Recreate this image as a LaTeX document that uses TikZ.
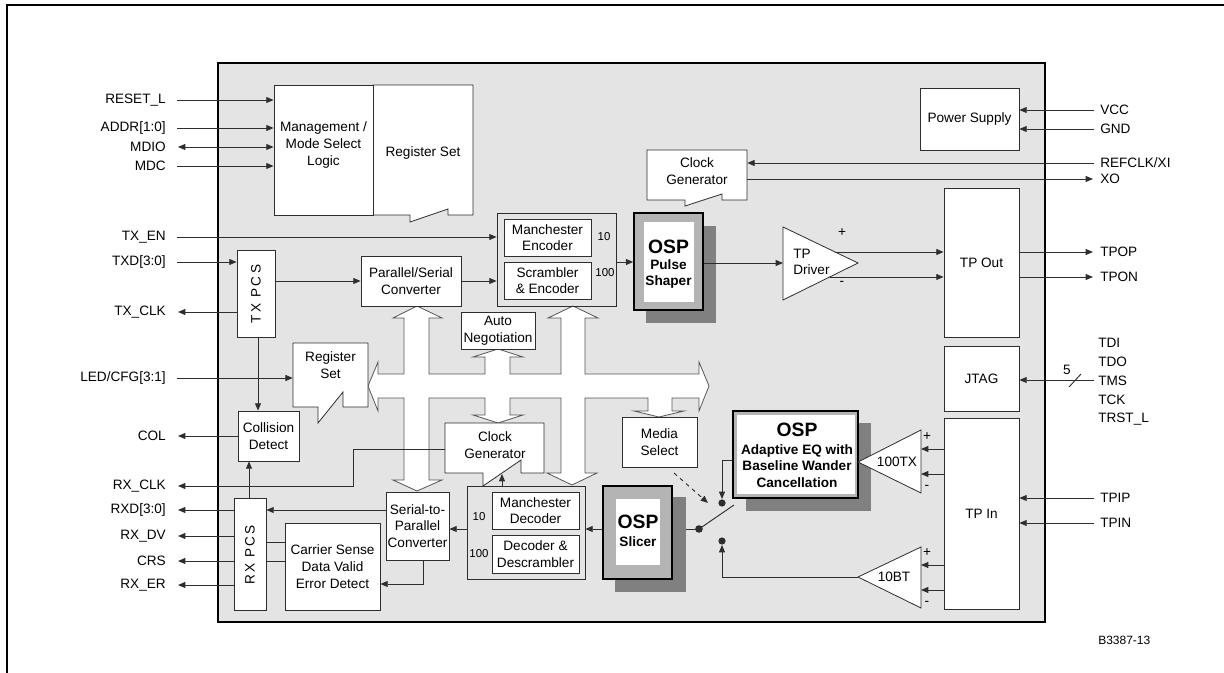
\documentclass[tikz,border=0pt]{standalone}
\usepackage{fontspec}
\setmainfont{Liberation Sans}
\usetikzlibrary{arrows.meta,fit}
\definecolor{bg}{HTML}{E4E4E4}
\definecolor{ln}{HTML}{2E2E2E}
\definecolor{shadowgray}{HTML}{808080}
\definecolor{band}{HTML}{B4B4B4}
\definecolor{busln}{HTML}{555555}
\newcommand\bxt[4]{\node[box, fit={#2 #3}] (#1) {};\node[area] (#1T) at (#1) {#4};}
\begin{document}
\begin{tikzpicture}[x=0.75pt,y=-0.75pt,
  font=\fontsize{10.2}{12.5}\selectfont,
  box/.style={draw=ln, fill=white, line width=0.6pt, inner sep=0pt},
  grp/.style={draw=ln, line width=0.6pt, inner sep=0pt},
  area/.style={inner sep=0pt, align=center},
  wire/.style={draw=ln, line width=0.7pt},
  arr/.style={wire, -{Triangle[length=5.5pt,width=4.5pt]}},
  darr/.style={wire, {Triangle[length=5.5pt,width=4.5pt]}-{Triangle[length=5.5pt,width=4.5pt]}},
  lbl/.style={inner sep=0pt, anchor=east},
  rlbl/.style={inner sep=0pt, anchor=west},
  ospbig/.style={inner sep=0pt, font=\fontsize{14.5}{16}\selectfont\bfseries},
  bld/.style={inner sep=0pt, align=center, font=\fontsize{10.2}{12.2}\selectfont\bfseries},
  small/.style={inner sep=0pt, font=\fontsize{8.6}{10}\selectfont},
  callout/.style={draw=ln, fill=white, line width=0.6pt},
  bandbox/.style={fill=band, draw=black, line width=1.1pt},
  bus/.style={fill=white, draw=busln, line width=0.6pt}
]
\useasboundingbox (0,0) rectangle (1224,673);
% outer frame
\draw[line width=1.5pt] (7,673) -- (7,5) -- (1240,5);
% chip area
\node[draw=black, fill=bg, line width=2pt, inner sep=0pt, fit={(218,63)(1045,622)}] (chip) {};

% ===== internal bus =====
\draw[bus] (368,386) -- (378,362) -- (378,374) -- (404,374) -- (404,318) -- (393,318) -- (417,306)
  -- (442,318) -- (429,318) -- (429,374) -- (485,374) -- (485,357) -- (473,357) -- (498,349)
  -- (523,357) -- (510,357) -- (510,374) -- (561,374) -- (561,318) -- (548,318) -- (573,306)
  -- (598,318) -- (585,318) -- (585,374) -- (699,374) -- (699,362) -- (709,386) -- (699,411)
  -- (699,398) -- (672,398) -- (672,411) -- (684,411) -- (659,417) -- (634,411) -- (648,411)
  -- (648,398) -- (585,398) -- (585,473) -- (597,473) -- (572,485) -- (547,473) -- (561,473)
  -- (561,398) -- (510,398) -- (510,415) -- (523,415) -- (498,423) -- (473,415) -- (485,415)
  -- (485,398) -- (429,398) -- (429,480) -- (442,480) -- (417,491) -- (393,480) -- (404,480)
  -- (404,398) -- (378,398) -- (378,411) -- cycle;

% ===== management / register set =====
\draw[callout] (373,85) -- (473,85) -- (473,215) -- (448,215) -- (448,209) -- (410,222) -- (410,215) -- (373,215) -- cycle;
\node[area] (regT) at (423,153) {Register Set};
\node[box, fit={(274,85)(373,215)}] (mgmt) {};
\node[area] (mgmtT) at (323.5,145) {Management /\\Mode Select\\Logic};

% power supply
\bxt{psu}{(920,88)}{(1019,150)}{Power Supply}

% upper clock generator
\draw[callout] (647,150) -- (747,150) -- (747,200) -- (722,200) -- (722,194) -- (685,206) -- (685,200) -- (647,200) -- cycle;
\node[area, fit={(647,150)(747,200)}] (clkU) {};
\node[area] (clkUT) at (697,171) {Clock\\Generator};

% TP Out / JTAG / TP In
\bxt{tpout}{(944,188)}{(1019,337)}{TP Out}
\bxt{jtag}{(944,346)}{(1019,411)}{JTAG}
\bxt{tpin}{(944,418)}{(1019,609)}{TP In}

% encoder group
\node[grp, fit={(497,213)(616,306)}] (encg) {};
\bxt{menc}{(504,219)}{(591,256)}{Manchester\\Encoder}
\bxt{senc}{(504,262)}{(591,299)}{Scrambler\\\& Encoder}
\node[small] (n10a) at (604,237) {10};
\node[small] (n100a) at (605,273) {100};

% OSP pulse shaper
\fill[shadowgray] (646,226) rectangle (716,323);
\node[bandbox, inner sep=0pt, fit={(634,213)(703,310)}] (psh) {};
\fill[white] (644,222) rectangle (694,302);
\node[ospbig] (pshA) at (668.5,247) {OSP};
\node[bld] (pshB) at (668.5,274) {Pulse\\Shaper};

% TP driver
\draw[callout] (783,227) -- (858,263) -- (783,300) -- cycle;
\coordinate (drvIn) at (783,263);
\coordinate (drvP) at (835,252);
\coordinate (drvM) at (830,277);
\node[inner sep=0pt, anchor=west, align=left] (drvT) at (793,262) {TP\\Driver};
\node[inner sep=0pt] (drvPl) at (842,233) {+};
\node[inner sep=0pt] (drvMi) at (842,283) {-};

% TX PCS / P-S converter
\node[box, fit={(237,250)(275,337)}] (txpcs) {};
\node[inner sep=0pt, rotate=90] (txpcsT) at (256,294) {T\,X\ \,P\,C\,S};
\bxt{ps}{(361,256)}{(461,306)}{Parallel/Serial\\Converter}

% Register set (small)
\draw[callout] (293,343) -- (368,343) -- (368,407) -- (343,407) -- (343,392) -- (318,423) -- (318,407) -- (293,407) -- cycle;
\node[area, fit={(293,343)(368,407)}] (regS) {};
\node[area] (regST) at (330.5,365) {Register\\Set};

% Auto negotiation
\bxt{aneg}{(461,312)}{(535,349)}{Auto\\Negotiation}

% Collision detect
\bxt{coll}{(238,411)}{(299,461)}{Collision\\Detect}

% lower clock generator
\draw[callout] (445,423) -- (544,423) -- (544,473) -- (521,473) -- (521,460) -- (483,486) -- (483,473) -- (445,473) -- cycle;
\node[area, fit={(445,423)(544,473)}] (clkL) {};
\node[area] (clkLT) at (495,445) {Clock\\Generator};

% Media select
\bxt{media}{(622,417)}{(697,467)}{Media\\Select}

% RX PCS / carrier sense / serial-to-parallel
\node[box, fit={(234,498)(266,610)}] (rxpcs) {};
\node[inner sep=0pt, rotate=90] (rxpcsT) at (250,555) {R\,X\ \,P\,C\,S};
\bxt{crs}{(285,523)}{(380,610)}{Carrier Sense\\Data Valid\\Error Detect}
\bxt{s2p}{(386,492)}{(449,560)}{Serial-to-\\Parallel\\Converter}

% decoder group
\node[grp, fit={(467,486)(585,579)}] (decg) {};
\bxt{mdec}{(492,492)}{(579,529)}{Manchester\\Decoder}
\bxt{ddec}{(492,535)}{(579,573)}{Decoder \&\\Descrambler}
\node[small] (n10b) at (479,517) {10};
\node[small] (n100b) at (479,554) {100};

% OSP slicer
\fill[shadowgray] (615,497) rectangle (686,592);
\node[bandbox, inner sep=0pt, fit={(603,486)(672,579)}] (slc) {};
\fill[white] (616,499) rectangle (660,565);
\node[ospbig] (slcA) at (638,522) {OSP};
\node[bld] (slcB) at (638,542) {Slicer};

% OSP adaptive EQ
\fill[shadowgray] (746,423) rectangle (871,511);
\node[bandbox, inner sep=0pt, fit={(733,411)(858,498)}] (eq) {};
\fill[white] (737,415) rectangle (855,494);
\node[ospbig] (eqA) at (797,430) {OSP};
\node[bld] (eqB) at (797,466) {Adaptive EQ with\\Baseline Wander\\Cancellation};

% receive amplifiers
\draw[callout] (921,430) -- (858,462) -- (921,493) -- cycle;
\node[inner sep=0pt] (txaT) at (897,462) {100TX};
\draw[callout] (921,547) -- (858,577) -- (921,608) -- cycle;
\node[inner sep=0pt] (btaT) at (894,577) {10BT};
\node[inner sep=0pt] (txaP) at (927,437) {+};
\node[inner sep=0pt] (txaM) at (927,487) {-};
\node[inner sep=0pt] (btaP) at (927,553) {+};
\node[inner sep=0pt] (btaM) at (927,603) {-};
\coordinate (txaIn1) at (921,449);
\coordinate (txaIn2) at (921,474);
\coordinate (btaIn1) at (921,565);
\coordinate (btaIn2) at (921,590);
\coordinate (btaOut) at (858,577);

% switch
\coordinate (swA) at (722,503);
\coordinate (swB) at (722,541);
\coordinate (swP) at (699,529);
\coordinate (swBlade) at (734,505);
\draw[arr] (eq.west |- 0,460) -- (722,460) -- (722,499);
\fill[ln] (swA) circle (3.6);
\draw[arr] (btaOut) -- (722,577) -- (722,545);
\fill[ln] (swB) circle (3.6);
\fill[ln] (swP) circle (3.8);
\draw[wire] (swP) -- (swBlade);
\draw[wire] (swP) -- (686,529);
\coordinate (mdS) at (674,473);
\draw[arr, dashed] (mdS) -- (708,503);

% ===== left labels & wires =====
\node[lbl] (lRESET) at (166,100) {RESET\_L};
\node[lbl] (lADDR) at (166,128) {ADDR[1:0]};
\node[lbl] (lMDIO) at (166,147) {MDIO};
\node[lbl] (lMDC) at (166,166) {MDC};
\node[lbl] (lTXEN) at (166,237) {TX\_EN};
\node[lbl] (lTXD) at (166,262) {TXD[3:0]};
\node[lbl] (lTXCLK) at (166,312) {TX\_CLK};
\node[lbl] (lLED) at (166,378) {LED/CFG[3:1]};
\node[lbl] (lCOL) at (166,436) {COL};
\node[lbl] (lRXCLK) at (166,486) {RX\_CLK};
\node[lbl] (lRXD) at (166,510) {RXD[3:0]};
\node[lbl] (lRXDV) at (166,536) {RX\_DV};
\node[lbl] (lCRS) at (166,561) {CRS};
\node[lbl] (lRXER) at (166,585) {RX\_ER};

\coordinate (cRESET) at (177,100);
\coordinate (cADDR) at (177,128);
\coordinate (cMDIO) at (178,147);
\coordinate (cMDC) at (177,166);
\coordinate (cTXEN) at (177,237);
\coordinate (cTXD) at (177,262);
\coordinate (cTXCLK) at (178,312);
\coordinate (cLED) at (177,378);
\coordinate (cCOL) at (178,436);
\coordinate (cRXCLK) at (178,486);
\coordinate (cRXD) at (178,510);
\coordinate (cRXDV) at (178,536);
\coordinate (cCRS) at (178,561);
\coordinate (cRXER) at (178,585);

\draw[arr] (cRESET) -- (mgmt.west |- cRESET);
\draw[arr] (cADDR) -- (mgmt.west |- cADDR);
\draw[darr] (cMDIO) -- (mgmt.west |- cMDIO);
\draw[arr] (cMDC) -- (mgmt.west |- cMDC);
\draw[arr] (cTXEN) -- (encg.west |- cTXEN);
\draw[arr] (cTXD) -- (txpcs.west |- cTXD);
\draw[arr] (txpcs.west |- cTXCLK) -- (cTXCLK);
\draw[arr] (cLED) -- (regS.west |- cLED);
\draw[arr] (coll.west |- cCOL) -- (cCOL);
\draw[arr] (clkL.west |- 0,449) -- (353,449) -- (353,486) -- (cRXCLK);
\draw[arr] (rxpcs.west |- cRXD) -- (cRXD);
\draw[arr] (rxpcs.west |- cRXDV) -- (cRXDV);
\draw[arr] (rxpcs.west |- cCRS) -- (cCRS);
\draw[arr] (rxpcs.west |- cRXER) -- (cRXER);

% internal wires (transmit)
\draw[arr] (txpcs.east |- 0,281) -- (ps.west |- 0,281);
\draw[arr] (ps.east) -- (encg.west |- ps.east);
\draw[arr] (txpcs.south -| 258,0) -- (coll.north -| 258,0);
\draw[arr] (rxpcs.north -| 249,0) -- (coll.south -| 249,0);
\draw[arr] (encg.east |- 0,262) -- (psh.west |- 0,262);
\draw[arr] (psh.east |- drvIn) -- (drvIn);
\draw[arr] (drvP) -- (tpout.west |- drvP);
\draw[arr] (drvM) -- (tpout.west |- drvM);

% internal wires (receive)
\draw[arr] (slc.west |- 0,529) -- (decg.east |- 0,529);
\draw[arr] (decg.west |- 0,529) -- (s2p.east |- 0,529);
\draw[arr] (s2p.west |- cRXD) -- (rxpcs.east |- cRXD);
\draw[arr] (s2p.south -| 423,0) -- (423,584) -- (crs.east |- 0,584);
\draw[wire] (crs.west |- 0,542) -- (rxpcs.east |- 0,542);
\draw[wire] (crs.west |- cCRS) -- (rxpcs.east |- cCRS);
\draw[arr] (decg.north -| 502,0) -- (502,474);
\draw[arr] (tpin.west |- txaIn1) -- (txaIn1);
\draw[arr] (tpin.west |- txaIn2) -- (txaIn2);
\draw[arr] (tpin.west |- btaIn1) -- (btaIn1);
\draw[arr] (tpin.west |- btaIn2) -- (btaIn2);

% ===== right labels & wires =====
\node[rlbl] (rVCC) at (1100,110) {VCC};
\node[rlbl] (rGND) at (1100,129) {GND};
\node[rlbl] (rREF) at (1100,163) {REFCLK/XI};
\node[rlbl] (rXO) at (1100,179) {XO};
\node[rlbl] (rTPOP) at (1100,252) {TPOP};
\node[rlbl] (rTPON) at (1100,277) {TPON};
\node[rlbl] (rTDI) at (1098,343) {TDI};
\node[rlbl] (rTDO) at (1098,362) {TDO};
\node[rlbl] (rTMS) at (1098,381) {TMS};
\node[rlbl] (rTCK) at (1098,400) {TCK};
\node[rlbl] (rTRST) at (1098,419) {TRST\_L};
\node[rlbl] (rTPIP) at (1100,498) {TPIP};
\node[rlbl] (rTPIN) at (1100,523) {TPIN};
\node[rlbl, font=\fontsize{9}{10}\selectfont] (fig) at (1098,640) {B3387-13};

\coordinate (cVCC) at (1094,110);
\coordinate (cGND) at (1094,129);
\coordinate (cREF) at (1094,163);
\coordinate (cXO) at (1093,179);
\coordinate (cTPOP) at (1093,252);
\coordinate (cTPON) at (1093,277);
\coordinate (cTMS) at (1094,380);
\coordinate (cTPIP) at (1094,498);
\coordinate (cTPIN) at (1094,523);

\draw[arr] (cVCC) -- (psu.east |- cVCC);
\draw[arr] (cGND) -- (psu.east |- cGND);
\draw[arr] (cREF) -- (clkU.east |- cREF);
\draw[arr] (clkU.east |- cXO) -- (cXO);
\draw[arr] (tpout.east |- cTPOP) -- (cTPOP);
\draw[arr] (tpout.east |- cTPON) -- (cTPON);
\draw[arr] (cTMS) -- (jtag.east |- cTMS);
\draw[wire] (1069,387) -- (1081,374);
\node[inner sep=0pt] (five) at (1067,370) {5};
\draw[arr] (cTPIP) -- (tpin.east |- cTPIP);
\draw[arr] (cTPIN) -- (tpin.east |- cTPIN);
\end{tikzpicture}
\end{document}
